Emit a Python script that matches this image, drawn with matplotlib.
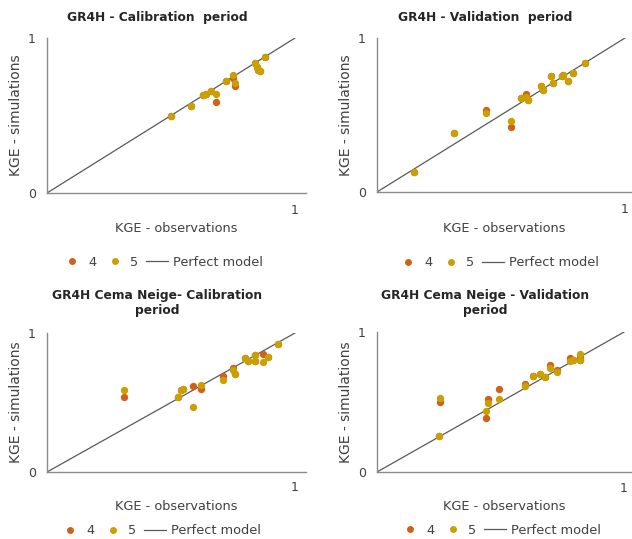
import matplotlib
matplotlib.use("Agg")
import matplotlib.pyplot as plt
from matplotlib.lines import Line2D

# GR4H - calibration
cal_x = [0.50, 0.58, 0.63, 0.64, 0.66, 0.68, 0.72, 0.75, 0.76, 0.84, 0.845, 0.85, 0.86, 0.88]
cal_y5 = [0.50, 0.56, 0.63, 0.64, 0.66, 0.64, 0.725, 0.76, 0.71, 0.84, 0.815, 0.795, 0.787, 0.88]
cal_y4 = [0.50, 0.56, 0.63, 0.64, 0.66, 0.59, 0.725, 0.745, 0.69, 0.84, 0.815, 0.795, 0.787, 0.88]

# GR4H - validation
val_x = [0.15, 0.31, 0.44, 0.54, 0.58, 0.60, 0.61, 0.66, 0.67, 0.70, 0.71, 0.745, 0.75, 0.77, 0.79, 0.84]
val_y5 = [0.13, 0.38, 0.51, 0.46, 0.61, 0.62, 0.60, 0.69, 0.665, 0.755, 0.71, 0.755, 0.76, 0.72, 0.77, 0.84]
val_y4 = [0.13, 0.38, 0.53, 0.42, 0.61, 0.635, 0.60, 0.69, 0.665, 0.755, 0.71, 0.755, 0.76, 0.72, 0.77, 0.84]

# GR4H Cema Neige - calibration
cn_cal_x = [0.31, 0.53, 0.54, 0.55, 0.59, 0.62, 0.71, 0.75, 0.76, 0.80, 0.81, 0.84, 0.84, 0.87, 0.89, 0.93]
cn_cal_y5 = [0.59, 0.54, 0.59, 0.60, 0.465, 0.625, 0.66, 0.737, 0.705, 0.82, 0.80, 0.84, 0.80, 0.79, 0.827, 0.92]
cn_cal_y4 = [0.54, 0.54, 0.59, 0.60, 0.617, 0.595, 0.69, 0.751, 0.705, 0.82, 0.80, 0.84, 0.80, 0.852, 0.827, 0.92]

# GR4H Cema Neige - validation
cn_val_x = [0.25, 0.255, 0.44, 0.45, 0.495, 0.60, 0.63, 0.66, 0.68, 0.70, 0.73, 0.78, 0.795, 0.82, 0.82]
cn_val_y5 = [0.255, 0.53, 0.434, 0.493, 0.519, 0.612, 0.684, 0.703, 0.679, 0.746, 0.714, 0.791, 0.803, 0.841, 0.803]
cn_val_y4 = [0.255, 0.503, 0.386, 0.521, 0.593, 0.631, 0.684, 0.703, 0.679, 0.762, 0.731, 0.817, 0.803, 0.82, 0.803]

ORANGE = "#D2601A"
GOLD = "#C9A000"
AXIS = "#8C8C8C"
TEXT = "#404040"

plt.rcParams["font.family"] = "DejaVu Sans"

fig = plt.figure(figsize=(6.32, 5.39), dpi=100)

W, H = 632.0, 539.0
# (left px, origin y px, right px, top px, x-unit px, title, title y px, xlabel y, legend y, legend x)
panels = [
    (47, 193, 306, 38, 248, "GR4H - Calibration  period", 17, 229, 262, 162,
     cal_x, cal_y4, cal_y5),
    (377, 192, 632, 38, 248, "GR4H - Validation  period", 17, 228, 263, 498,
     val_x, val_y4, val_y5),
    (47, 472, 306, 333, 248, "GR4H Cema Neige- Calibration\nperiod", 303, 507, 531, 160,
     cn_cal_x, cn_cal_y4, cn_cal_y5),
    (377, 472, 632, 332, 247, "GR4H Cema Neige - Validation\nperiod", 303, 507, 530, 500,
     cn_val_x, cn_val_y4, cn_val_y5),
]

for (l, o, r, t, xu, title, ty, xly, ly, lx, xs, y4, y5) in panels:
    ax = fig.add_axes([l / W, 1 - o / H, (r - l) / W, (o - t) / H])
    ax.set_xlim(0, (r - l) / xu)
    ax.set_ylim(0, 1)
    ax.plot([0, 1], [0, 1], color="#595959", lw=0.9, zorder=1)
    ax.scatter(xs, y4, s=28, color=ORANGE, zorder=2, linewidths=0)
    ax.scatter(xs, y5, s=28, color=GOLD, zorder=3, linewidths=0)
    for s in ("top", "right"):
        ax.spines[s].set_visible(False)
    for s in ("left", "bottom"):
        ax.spines[s].set_color(AXIS)
        ax.spines[s].set_linewidth(1.0)
    ax.set_xticks([])
    ax.set_yticks([0, 1])
    ax.set_yticklabels(["0", "1"])
    ax.tick_params(axis="y", length=0, pad=8, labelsize=9, labelcolor=TEXT)
    # x tick "1" sits a bit under the axis
    ax.text(1, -0.115, "1", ha="center", va="center", fontsize=9, color=TEXT,
            transform=ax.transData)
    cx = (l + r) / 2 / W
    fig.text(cx - 0.03, 1 - ty / H, title, ha="center", va="center",
             fontsize=8.8, fontweight="bold", color="#262626", linespacing=1.25)
    fig.text(cx, 1 - xly / H, "KGE - observations", ha="center", va="center",
             fontsize=9.3, color=TEXT)
    fig.text((l - 31) / W, 1 - (o + t) / 2 / H, "KGE - simulations", rotation=90,
             ha="center", va="center", fontsize=10, color=TEXT)
    handles = [
        Line2D([], [], ls="", marker="o", ms=5, color=ORANGE, mec="none"),
        Line2D([], [], ls="", marker="o", ms=5, color=GOLD, mec="none"),
        Line2D([], [], color="#595959", lw=0.9),
    ]
    fig.legend(handles, ["4", "5", "Perfect model"], loc="center",
               bbox_to_anchor=(lx / W, 1 - ly / H), ncol=3, frameon=False,
               fontsize=9.3, handlelength=1.7, handletextpad=0.35,
               columnspacing=0.6, labelcolor=TEXT)

fig.savefig("out.png", dpi=100)
